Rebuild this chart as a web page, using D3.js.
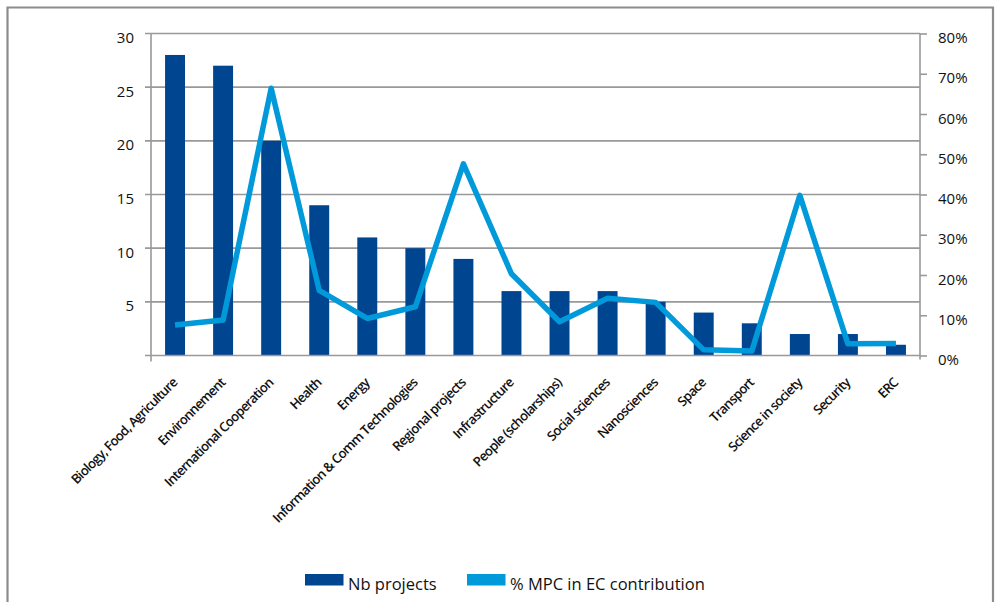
<!DOCTYPE html>
<html><head><meta charset="utf-8">
<script src="https://cdn.jsdelivr.net/npm/d3@7"></script>
<style>
body{margin:0;background:#fff;}
svg{display:block;}
text{font-family:"Open Sans","Noto Sans",sans-serif;fill:#111;}
</style></head>
<body><svg id="c" width="995" height="602"></svg>
<script>
const categories = ["Biology, Food, Agriculture","Environnement","International Cooperation","Health","Energy","Information & Comm Technologies","Regional projects","Infrastructure","People (scholarships)","Social sciences","Nanosciences","Space","Transport","Science in society","Security","ERC"];
const nbProjects = [28,27,20,14,11,10,9,6,6,6,5,4,3,2,2,1];
const pctMPC = [7.6,8.8,66.4,16.2,9.2,12.1,47.6,20.3,8.4,14.2,13.2,1.4,1.1,39.8,2.9,3.0];
const leftTicks = [5,10,15,20,25,30];
const rightTicks = [0,10,20,30,40,50,60,70,80];
const legendLabels = ["Nb projects","% MPC in EC contribution"];
const barColor = "#00458f", lineColor = "#009adb", gridColor = "#999";

const svg = d3.select("#c");
const m = {left:151, right:920, top:33.5, bottom:355.5};

// outer frame
svg.append("path").attr("d","M7.5,610 V7.5 H993 V610").attr("fill","none").attr("stroke","#8c8c8c").attr("stroke-width",2.2);

const x = d3.scaleBand().domain(categories).range([m.left,m.right]).paddingInner(0.585).paddingOuter(0.2925);
const yL = d3.scaleLinear().domain([0,30]).range([m.bottom,m.top]);
const yR = d3.scaleLinear().domain([0,80]).range([m.bottom,m.top]);

// gridlines
svg.append("g").selectAll("line").data(leftTicks).join("line")
  .attr("x1",m.left-6).attr("x2",m.right).attr("y1",d=>yL(d)).attr("y2",d=>yL(d))
  .attr("stroke",gridColor).attr("stroke-width",1.6);

// bars
svg.append("g").selectAll("rect").data(categories).join("rect")
  .attr("x",d=>x(d)).attr("width",x.bandwidth())
  .attr("y",(d,i)=>yL(nbProjects[i])).attr("height",(d,i)=>m.bottom-yL(nbProjects[i]))
  .attr("fill",barColor);

// left axis
const gl = svg.append("g").attr("transform",`translate(${m.left},0)`)
  .call(d3.axisLeft(yL).tickValues(leftTicks).tickSize(6).tickPadding(11).tickFormat(d3.format("d")));
gl.select(".domain").remove();
gl.selectAll(".tick line").remove();
gl.selectAll("text").attr("font-size",15).attr("font-family","Open Sans, sans-serif").attr("fill","#111").attr("dy","0.8em").attr("y",-3);
svg.append("line").attr("x1",m.left).attr("x2",m.left).attr("y1",m.top).attr("y2",m.bottom+6).attr("stroke",gridColor).attr("stroke-width",1.6);
svg.append("line").attr("x1",m.left-6).attr("x2",m.right).attr("y1",m.bottom).attr("y2",m.bottom).attr("stroke",gridColor).attr("stroke-width",1.6);

// right axis
const gr = svg.append("g").attr("transform",`translate(${m.right},0)`)
  .call(d3.axisRight(yR).tickValues(rightTicks).tickSize(7).tickPadding(11).tickFormat(d=>d+"%"));
gr.select(".domain").attr("stroke",gridColor).attr("stroke-width",1.6).attr("d",`M0,${m.top}V${m.bottom+4}`);
gr.selectAll(".tick line").attr("stroke",gridColor).attr("stroke-width",1.6);
gr.selectAll("text").attr("font-size",15).attr("font-family","Open Sans, sans-serif").attr("fill","#111").attr("dy","0.8em").attr("y",-3);

// line
const line = d3.line().x((d,i)=>x(categories[i])+x.bandwidth()/2).y(d=>yR(d));
svg.append("path").datum(pctMPC).attr("d",line).attr("fill","none")
  .attr("stroke",lineColor).attr("stroke-width",5.5).attr("stroke-linejoin","round");

// x labels
svg.append("g").selectAll("text").data(categories).join("text")
  .attr("transform",d=>`translate(${x(d)+x.bandwidth()/2+3},${m.bottom+28}) rotate(-45)`)
  .attr("text-anchor","end").attr("font-size",13.2).attr("font-weight",600)
  .attr("font-family","Open Sans, sans-serif")
  .attr("letter-spacing",-0.75)
  .text(d=>d);

// legend
const lg = svg.append("g");
const lx = [305,467];
lg.selectAll("rect").data(legendLabels).join("rect")
  .attr("x",(d,i)=>lx[i]).attr("y",574).attr("width",38.5).attr("height",11.5)
  .attr("fill",(d,i)=>i===0?barColor:lineColor);
lg.selectAll("text").data(legendLabels).join("text")
  .attr("x",(d,i)=>lx[i]+43).attr("y",590).attr("font-size",16.5).attr("fill","#111")
  .text(d=>d);
</script></body></html>
